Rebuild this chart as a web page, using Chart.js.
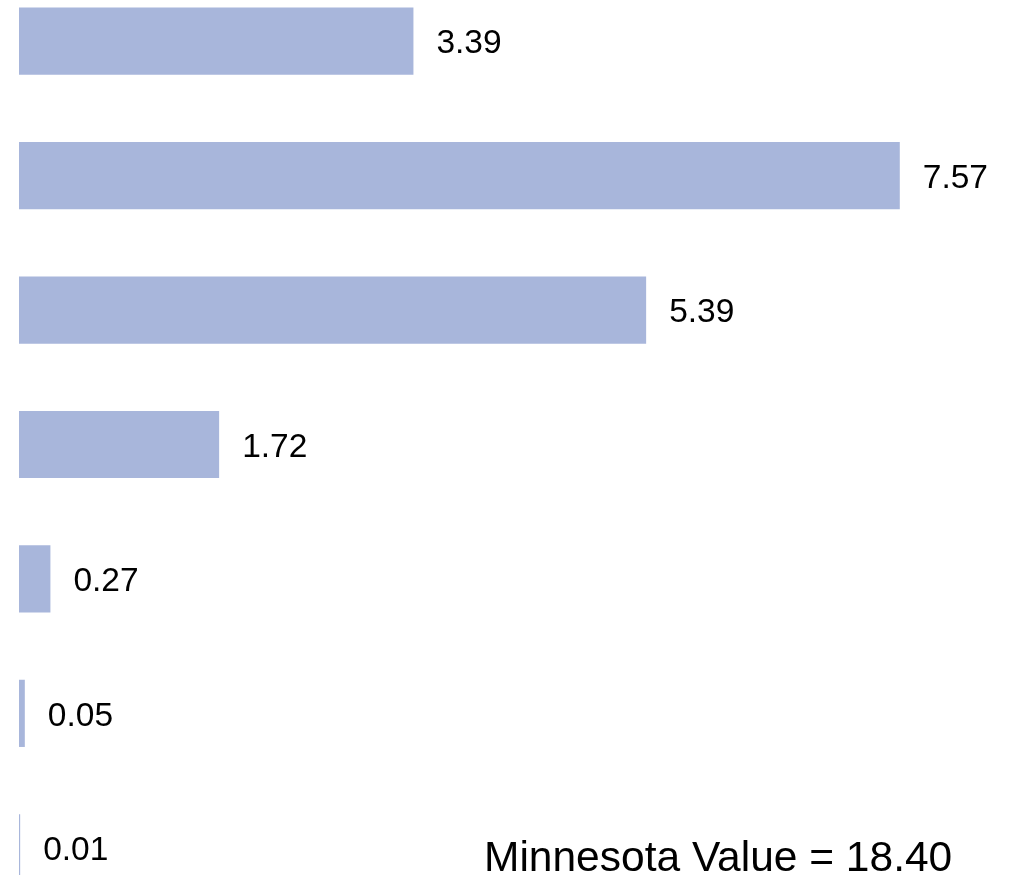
<!DOCTYPE html>
<html>
<head>
<meta charset="utf-8">
<script src="https://cdn.jsdelivr.net/npm/chart.js@4"></script>
<style>
  html, body { margin: 0; padding: 0; background: #fff; overflow: hidden; }
  #wrap { position: relative; width: 1014px; height: 875px; overflow: hidden; }
  #canvas1 { position: absolute; left: 0; top: -26px; }
  #note {
    position: absolute; left: 484px; top: 832px;
    font-family: "Liberation Sans", Arial, sans-serif; font-size: 42.5px; color: #000;
    line-height: 50px; white-space: nowrap;
  }
</style>
</head>
<body>
<div id="wrap">
  <canvas id="canvas1" width="1014" height="941"></canvas>
  <div id="note">Minnesota Value = 18.40</div>
</div>
<script>
// one row per bar, top to bottom
const categories = ['A', 'B', 'C', 'D', 'E', 'F', 'G'];
const values = [3.39, 7.57, 5.39, 1.72, 0.27, 0.05, 0.01];
const valueLabels = ['3.39', '7.57', '5.39', '1.72', '0.27', '0.05', '0.01'];

// draw the number to the right of each bar
const barLabels = {
    id: 'barLabels',
    afterDatasetsDraw(chart) {
        const c = chart.ctx;
        const meta = chart.getDatasetMeta(0);
        c.save();
        c.font = '33.5px "Liberation Sans", Arial, sans-serif';
        c.fillStyle = '#000';
        c.textBaseline = 'middle';
        c.textAlign = 'left';
        meta.data.forEach(function (bar, i) {
            c.fillText(valueLabels[i], bar.x + 23, bar.y + 3);
        });
        c.restore();
    }
};

const ctx = document.getElementById('canvas1');
const chartBars = new Chart(ctx, {
    type: 'bar',
    data: {
        labels: categories,
        datasets: [{
            data: values,
            backgroundColor: 'rgb(168, 182, 219)',
            borderWidth: 0,
            barPercentage: 0.5,
            categoryPercentage: 1.0,
            minBarLength: 1
        }]
    },
    options: {
        indexAxis: 'y',
        responsive: false,
        animation: false,
        layout: { padding: { left: 19, right: 6, top: 0, bottom: 0 } },
        plugins: {
            legend: { display: false },
            tooltip: { enabled: false }
        },
        scales: {
            x: { display: false, min: 0, max: 8.5 },
            y: { display: false }
        }
    },
    plugins: [barLabels]
});
</script>
</body>
</html>
